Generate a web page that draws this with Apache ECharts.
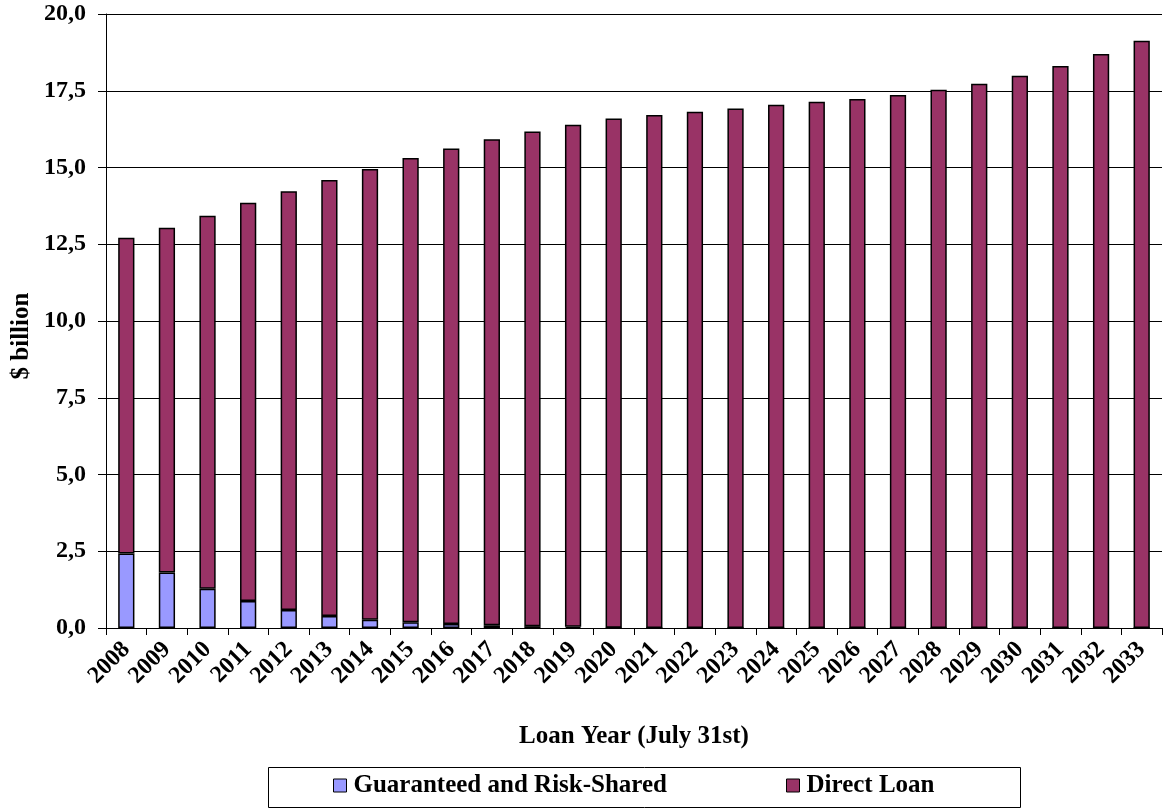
<!DOCTYPE html>
<html>
<head>
<meta charset="utf-8">
<script src="https://cdn.jsdelivr.net/npm/echarts@6/dist/echarts.min.js"></script>
<style>html,body{margin:0;padding:0;background:#fff;}#c{width:1164px;height:809px;}</style>
</head>
<body>
<div id="c"></div>
<script>
const years = ['2008','2009','2010','2011','2012','2013','2014','2015','2016','2017','2018','2019','2020','2021','2022','2023','2024','2025','2026','2027','2028','2029','2030','2031','2032','2033'];
const totals = [12.71,13.04,13.43,13.85,14.23,14.59,14.95,15.31,15.62,15.92,16.17,16.39,16.60,16.71,16.82,16.92,17.04,17.14,17.23,17.36,17.53,17.73,17.99,18.31,18.70,19.13];
const guaranteed = [2.43,1.81,1.28,0.88,0.59,0.39,0.27,0.19,0.13,0.09,0.06,0.04,0.01,0,0,0,0,0,0,0,0,0,0,0,0,0];
const directLoan = totals.map((t,i)=>+(t-guaranteed[i]).toFixed(2));
const yTicks = ['0,0','2,5','5,0','7,5','10,0','12,5','15,0','17,5','20,0'];
const seriesNames = ['Guaranteed and Risk-Shared','Direct Loan'];
const yTitle = '$ billion';
const xTitle = 'Loan Year (July 31st)';

const font = 'Liberation Serif';
const legendBase = {
  top:773, padding:0,
  itemWidth:13, itemHeight:13,
  icon:'rect',
  itemStyle:{borderColor:'#000',borderWidth:1},
  textStyle:{fontFamily:font,fontWeight:'bold',fontSize:25,color:'#000',padding:[0,0,0,2]}
};
const chart = echarts.init(document.getElementById('c'));
chart.setOption({
  animation:false,
  backgroundColor:'#fff',
  textStyle:{fontFamily:font},
  grid:{left:106,right:2,top:14,bottom:181,containLabel:false},
  legend:[
    Object.assign({}, legendBase, {left:333, data:[seriesNames[0]]}),
    Object.assign({}, legendBase, {left:786, data:[seriesNames[1]]})
  ],
  graphic:[
    {type:'rect', left:266, top:765, shape:{width:752,height:40}, style:{fill:'none',stroke:'#000',lineWidth:1}, z:-1},
    {type:'text', x:22, y:336, rotation:Math.PI/2,
      style:{text:yTitle, fontFamily:font, fontWeight:'bold', fontSize:25, fill:'#000', align:'center', verticalAlign:'middle'}}
  ],
  xAxis:{
    type:'category', data:years,
    boundaryGap:true,
    name:xTitle, nameLocation:'middle', nameGap:96,
    nameTextStyle:{fontFamily:font,fontWeight:'bold',fontSize:25,color:'#000'},
    axisLine:{lineStyle:{color:'#000',width:1}},
    axisTick:{show:true,length:7,alignWithLabel:false,lineStyle:{color:'#000'}},
    axisLabel:{rotate:45,interval:0,margin:18,fontFamily:font,fontWeight:'bold',fontSize:24,color:'#000'},
    splitLine:{show:false}
  },
  yAxis:{
    type:'value', min:0, max:20, interval:2.5,
    axisLine:{show:true,lineStyle:{color:'#000',width:1}},
    axisTick:{show:true,length:8,lineStyle:{color:'#000'}},
    axisLabel:{margin:20,fontFamily:font,fontWeight:'bold',fontSize:24,color:'#000',
      formatter:(v)=>yTicks[Math.round(v/2.5)]},
    splitLine:{show:true,lineStyle:{color:'#000',width:1}}
  },
  series:[
    {name:seriesNames[0],type:'bar',stack:'a',data:guaranteed,barWidth:'40%',
      itemStyle:{color:'#9999FF',borderColor:'#000',borderWidth:1.5}},
    {name:seriesNames[1],type:'bar',stack:'a',data:directLoan,barWidth:'40%',
      itemStyle:{color:'#993366',borderColor:'#000',borderWidth:1.5}}
  ]
});
</script>
</body>
</html>
